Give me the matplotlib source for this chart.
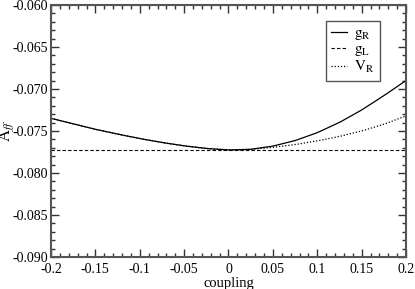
import matplotlib
matplotlib.use('Agg')
import matplotlib.pyplot as plt
import numpy as np

coupling = [-0.2, -0.175, -0.15, -0.125, -0.1, -0.075, -0.05, -0.025, 0.0,
            0.025, 0.05, 0.075, 0.1, 0.125, 0.15, 0.175, 0.2]
g_R = [-0.07349, -0.07415, -0.07480, -0.07537, -0.07590, -0.07637, -0.07677, -0.07708, -0.07726,
       -0.07718, -0.07680, -0.07614, -0.07520, -0.07398, -0.07250, -0.07080, -0.06899]
g_L = [-0.07726] * len(coupling)
V_R = [-0.07349, -0.07415, -0.07480, -0.07537, -0.07590, -0.07637, -0.07677, -0.07708, -0.07726,
       -0.07719, -0.07695, -0.07662, -0.07618, -0.07565, -0.07500, -0.07420, -0.07321]

plt.rcParams['font.family'] = 'Liberation Serif'
plt.rcParams['mathtext.fontset'] = 'stix'

fig = plt.figure(figsize=(4.15, 2.89), dpi=100)
ax = fig.add_axes([51/415, 1-257/289, 355/415, 252/289])

# smooth the read points a little for drawing
xs = np.linspace(-0.2, 0.2, 200)
ax.plot(xs, np.interp(xs, coupling, g_R), color='black', lw=0.9, label=r'$\mathrm{g_R}$')
ax.plot(coupling, g_L, color='black', lw=0.8, ls=(0, (3, 2)), label=r'$\mathrm{g_L}$')
ax.plot(xs, np.interp(xs, coupling, V_R), color='black', lw=0.9, ls=(0, (1, 1.5)), label=r'$\mathrm{V_R}$')

ax.set_xlim(-0.2, 0.2)
ax.set_ylim(-0.090, -0.060)
ax.set_xticks([-0.2, -0.15, -0.1, -0.05, 0, 0.05, 0.1, 0.15, 0.2])
ax.set_xticklabels(['-0.2', '-0.15', '-0.1', '-0.05', '0', '0.05', '0.1', '0.15', '0.2'])
ax.set_yticks([-0.090, -0.085, -0.080, -0.075, -0.070, -0.065, -0.060])
ax.set_yticklabels(['-0.090', '-0.085', '-0.080', '-0.075', '-0.070', '-0.065', '-0.060'])
ax.set_xticks(np.arange(-0.2, 0.2001, 0.01), minor=True)
ax.set_yticks(np.arange(-0.090, -0.0599, 0.001), minor=True)
ax.tick_params(which='both', direction='in', top=True, right=True, labelsize=10, colors='#333333',
               labelcolor='black')
ax.tick_params(axis='x', pad=4)
ax.tick_params(axis='y', pad=2)
ax.tick_params(which='major', length=6, width=1)
ax.tick_params(which='minor', length=3, width=1)
for s in ax.spines.values():
    s.set_linewidth(1.5)
    s.set_color('#555555')

ax.set_xlabel('coupling', fontsize=10.5, labelpad=1)
ax.set_ylabel(r'$\mathrm{A}_{\it ff}$', fontsize=12)
ax.yaxis.set_label_coords(-0.1, 0.5)

leg = ax.legend(loc='upper right', bbox_to_anchor=(380/415, 1-21/289), bbox_transform=fig.transFigure,
                fancybox=False, edgecolor='#555555', framealpha=1, fontsize=11,
                handlelength=1.0, handletextpad=0.5, borderpad=0.35, labelspacing=0.05,
                borderaxespad=0)
leg.get_frame().set_linewidth(1.0)

fig.savefig('out.png', dpi=100)
